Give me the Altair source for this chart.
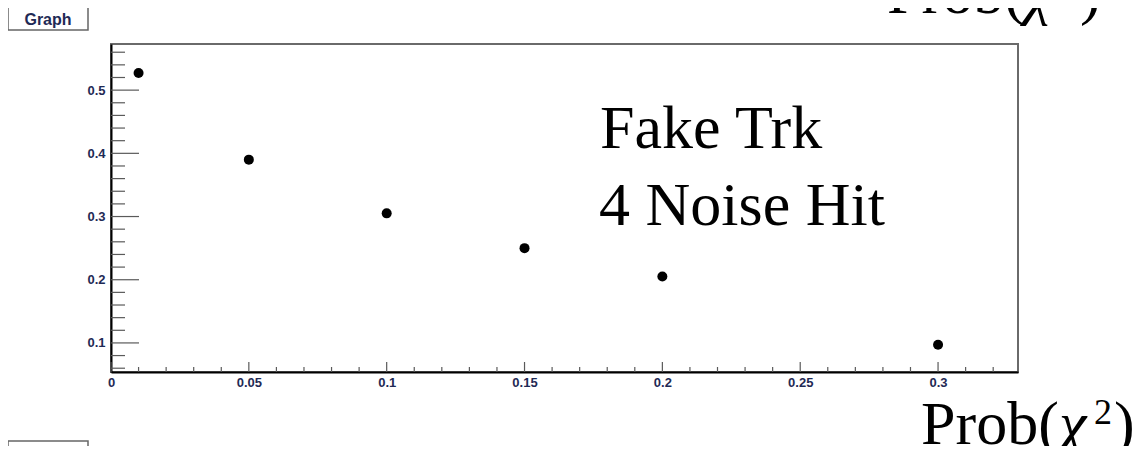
import altair as alt
import pandas as pd

# ---- data ----
prob = [0.01, 0.05, 0.10, 0.15, 0.20, 0.30]
frac = [0.527, 0.390, 0.305, 0.250, 0.205, 0.097]

x_major = [0, 0.05, 0.1, 0.15, 0.2, 0.25, 0.3]
x_minor = [0.01, 0.02, 0.03, 0.04, 0.06, 0.07, 0.08, 0.09, 0.11, 0.12, 0.13, 0.14,
           0.16, 0.17, 0.18, 0.19, 0.21, 0.22, 0.23, 0.24, 0.26, 0.27, 0.28, 0.29,
           0.31, 0.32]
y_major = [0.1, 0.2, 0.3, 0.4, 0.5]
y_minor = [0.06, 0.08, 0.12, 0.14, 0.16, 0.18, 0.22, 0.24, 0.26, 0.28, 0.32, 0.34,
           0.36, 0.38, 0.42, 0.44, 0.46, 0.48, 0.52, 0.54, 0.56]

annot_line1 = "Fake Trk"
annot_line2 = "4 Noise Hit"
button_text = "Graph"

W, H = 907, 328
SERIF = "Liberation Serif, Times New Roman, serif"
SANS = "Liberation Sans, Arial, Helvetica, sans-serif"
LABEL_COLOR = "#1f2a55"
TICK_COLOR = "#5a5a5a"

xscale = alt.Scale(domain=[0, 0.329], nice=False, zero=False)
yscale = alt.Scale(domain=[0.054, 0.573], nice=False, zero=False)

axis_common = dict(title=None, ticks=False, tickSize=0, grid=False, domainColor="black",
                   domainWidth=2, labelFont=SANS, labelFontSize=13, labelFontWeight="bold",
                   labelColor=LABEL_COLOR, format="~g", labelFlush=False, labelOverlap=False)
xaxis = alt.Axis(values=x_major, labelPadding=4, labelBaseline="top", **axis_common)
yaxis = alt.Axis(values=y_major, labelPadding=6, **axis_common)

pts = pd.DataFrame({"prob": prob, "frac": frac})
one = pd.DataFrame({"k": [0]})

points = alt.Chart(pts).mark_circle(size=100, color="black", opacity=1).encode(
    x=alt.X("prob:Q", scale=xscale, axis=xaxis),
    y=alt.Y("frac:Q", scale=yscale, axis=yaxis),
)

ymaj = alt.Chart(pd.DataFrame({"v": y_major})).mark_rule(color=TICK_COLOR, strokeWidth=1.2).encode(
    y=alt.Y("v:Q", scale=yscale, axis=yaxis), x=alt.value(0), x2=alt.value(28))
ymin = alt.Chart(pd.DataFrame({"v": y_minor})).mark_rule(color=TICK_COLOR, strokeWidth=1.2).encode(
    y=alt.Y("v:Q", scale=yscale, axis=yaxis), x=alt.value(0), x2=alt.value(14))
xmaj = alt.Chart(pd.DataFrame({"v": x_major})).mark_rule(color=TICK_COLOR, strokeWidth=1.2).encode(
    x=alt.X("v:Q", scale=xscale, axis=xaxis), y=alt.value(H), y2=alt.value(H - 10))
xmin = alt.Chart(pd.DataFrame({"v": x_minor})).mark_rule(color=TICK_COLOR, strokeWidth=1.2).encode(
    x=alt.X("v:Q", scale=xscale, axis=xaxis), y=alt.value(H), y2=alt.value(H - 5))


def txt(s, x, y, size, font=SERIF, **kw):
    return alt.Chart(one).mark_text(text=s, align="left", baseline="alphabetic", font=font,
                                    fontSize=size, color=kw.pop("color", "black"), **kw).encode(
        x=alt.value(x), y=alt.value(y))


def prob_chi(x0, base):
    return [
        txt("Prob(", x0, base, 62),
        txt("χ", x0 + 138, base, 62, fontStyle="italic"),
        txt("2", x0 + 173, base - 20, 36),
        txt(")", x0 + 193, base, 62),
    ]


def button(y0):
    box = alt.Chart(one).mark_rect(fill="white", stroke="#666", strokeWidth=1.5).encode(
        x=alt.value(-103), x2=alt.value(-23), y=alt.value(y0), y2=alt.value(y0 + 25))
    lab = alt.Chart(one).mark_text(text=button_text, align="center", baseline="alphabetic",
                                   font=SANS, fontSize=16, fontWeight="bold",
                                   color=LABEL_COLOR).encode(
        x=alt.value(-63), y=alt.value(y0 + 20))
    return [box, lab]


layers = [points, ymin, ymaj, xmin, xmaj,
          txt(annot_line1, 489, 104, 62),
          txt(annot_line2, 488, 181, 62)]
layers += prob_chi(776, -31)
layers += prob_chi(810, 400)
layers += button(-39)
layers += button(397)

chart = alt.layer(*layers).properties(
    width=W, height=H,
    padding={"left": 103, "top": 36, "right": 116, "bottom": 74},
    autosize=alt.AutoSizeParams(type="none"),
).configure_view(stroke="#6a6a6a", strokeWidth=2)

chart.save("out.html", embed_options={"renderer": "svg", "actions": False})
